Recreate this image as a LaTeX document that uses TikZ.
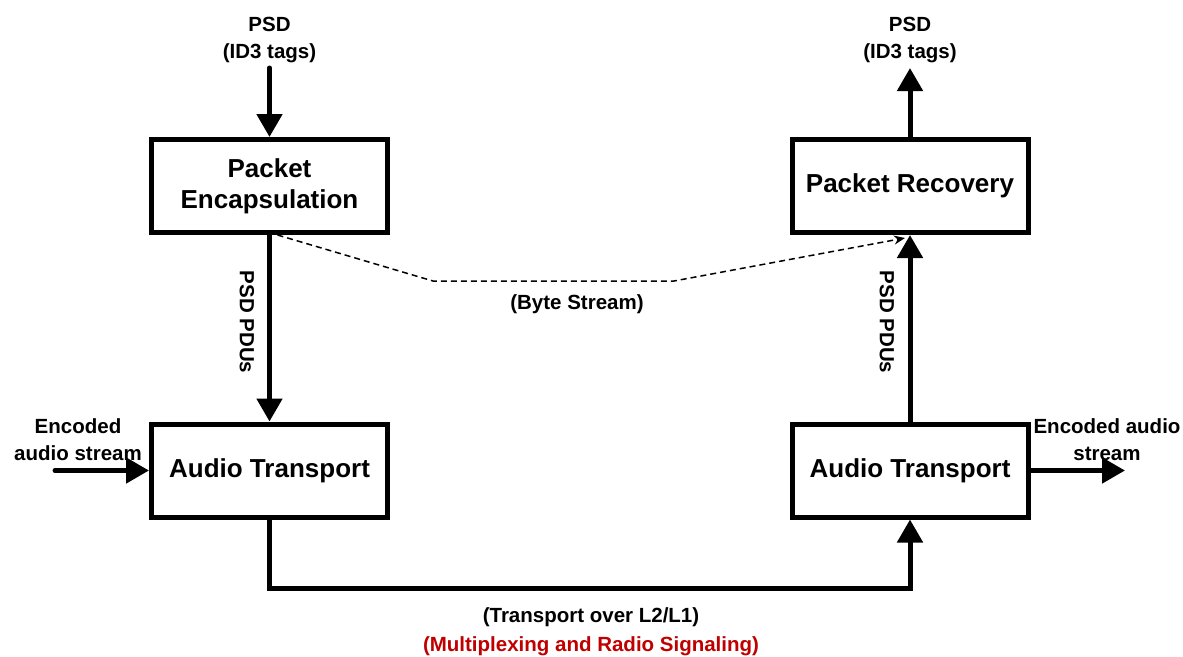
\documentclass[tikz,border=0pt]{standalone}
\usepackage{fontspec}
\setmainfont{Liberation Sans}
\usetikzlibrary{arrows.meta}
\definecolor{sigred}{RGB}{192,0,0}
\begin{document}
\begin{tikzpicture}[x=1pt,y=-1pt,
  blk/.style={draw, line width=5pt, minimum width=236pt, minimum height=93pt,
    align=center, inner sep=0pt, font=\fontsize{26}{31}\selectfont\bfseries},
  lbl/.style={align=center, inner sep=0pt, font=\fontsize{20.5}{27}\selectfont\bfseries},
  arr/.style={line width=5pt, -{Triangle[length=23pt,width=25pt]}},
  dashln/.style={line width=1.5pt, dash pattern=on 6pt off 4pt, -{Stealth[length=11pt,width=9pt]}}
]
\useasboundingbox (0,0) rectangle (1183,656);
\fill[white] (0,0) rectangle (1183,656);

\node[blk] (PE) at (269.5,186) {Packet\\Encapsulation};
\node[blk] (PR) at (910,186) {Packet Recovery};
\node[blk] (ATL) at (269.5,470.5) {Audio Transport};
\node[blk] (ATR) at (910,470.5) {Audio Transport};

\node[lbl] (psdL) at (269.5,40) {PSD\\(ID3 tags)};
\node[lbl] (psdR) at (910,40) {PSD\\(ID3 tags)};
\node[lbl] (encL) at (78,440) {Encoded\\audio stream};
\node[lbl] (encR) at (1107,440) {Encoded audio\\stream};
\node[lbl, rotate=-90] (pduL) at (247,322) {PSD PDUs};
\node[lbl, rotate=-90] (pduR) at (887,322) {PSD PDUs};
\node[lbl] (byte) at (577,304) {(Byte Stream)};
\node[lbl] (trans) at (591,617) {(Transport over L2/L1)};
\node[lbl, text=sigred] (mux) at (591,646) {(Multiplexing and Radio Signaling)};

\coordinate (inL) at (55,470.5);
\coordinate (outR) at (1125,470.5);
\coordinate (psdLend) at (269.5,68);
\coordinate (psdRend) at (910,68);
\coordinate (bot) at (590,588);
\coordinate (d1) at (433,281);
\coordinate (d2) at (674,281);

\draw[arr, line cap=round] (psdLend) -- (PE.north);
\draw[arr] (PR.north) -- (psdRend);
\draw[arr] (PE.south) -- (ATL.north);
\draw[arr] (ATR.north) -- (PR.south);
\draw[arr, line cap=round] (inL) -- (ATL.west);
\draw[arr] (ATR.east) -- (outR);
\draw[arr] (ATL.south) |- (bot) -| (ATR.south);
\draw[dashln] ([xshift=8pt]PE.south) -- (d1) -- (d2) -- ([xshift=-5pt,yshift=-3pt]PR.south);
\end{tikzpicture}
\end{document}
